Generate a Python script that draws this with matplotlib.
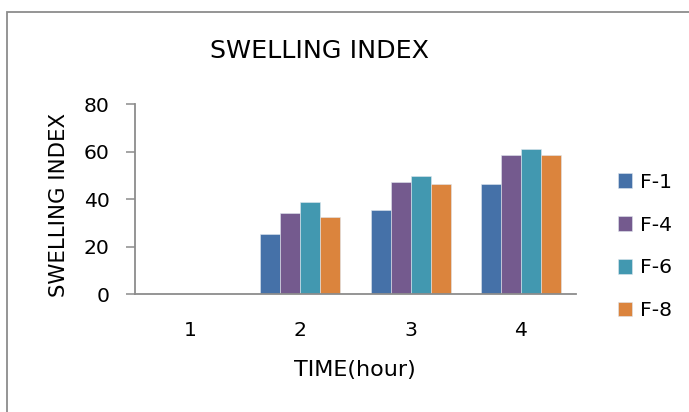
import numpy as np
import matplotlib
matplotlib.use("Agg")
import matplotlib.pyplot as plt
from matplotlib.patches import Rectangle

# data
hours = ["1", "2", "3", "4"]
series_names = ["F-1", "F-4", "F-6", "F-8"]
f1 = [0, 25.3, 35.4, 46.2]
f4 = [0, 34.2, 47.3, 58.6]
f6 = [0, 38.6, 49.7, 61.1]
f8 = [0, 32.4, 46.4, 58.4]
colors = ["#4571a8", "#745a8e", "#4298b0", "#db843d"]

plt.rcParams["font.family"] = ["DejaVu Sans"]

W, H = 689, 412
fig = plt.figure(figsize=(W / 100, H / 100), dpi=100)

# outer chart frame (runs off the right and bottom edges)
fig.patches.append(Rectangle((7 / W, -0.05), 1.1, 1 - 12 / H + 0.05,
                             transform=fig.transFigure, fill=False,
                             edgecolor="#8c8c8c", linewidth=1.3))

ax = fig.add_axes([135 / W, 1 - 294.3 / H, (576 - 135) / W, (294.3 - 104) / H])

x = np.arange(len(hours))
width = 0.181
for i, (vals, name) in enumerate(zip([f1, f4, f6, f8], series_names)):
    ax.bar(x + (i - 1.5) * width, vals, width, color=colors[i], label=name,
           edgecolor="#dfe6ee", linewidth=0.4)

ax.set_xlim(-0.5, 3.5)
ax.set_ylim(0, 80)
ax.set_yticks([0, 20, 40, 60, 80])
ax.set_xticks(x)
ax.set_xticklabels(hours)
for s in ["top", "right"]:
    ax.spines[s].set_visible(False)
for s in ["left", "bottom"]:
    ax.spines[s].set_color("#8c8c8c")
    ax.spines[s].set_linewidth(1.3)
ax.tick_params(axis="y", length=6.3, width=1.1, color="#8c8c8c",
               labelsize=14.7, pad=12)
ax.tick_params(axis="x", length=0, labelsize=14.7, pad=19)

fig.text(355 / W, 1 - 370 / H, "TIME(hour)", fontsize=16,
         ha="center", va="center")
fig.text(59 / W, 1 - 205 / H, "SWELLING INDEX", fontsize=15.3,
         rotation=90, ha="center", va="center")
fig.text(320 / W, 1 - 50.5 / H, "SWELLING INDEX", fontsize=18.3,
         ha="center", va="center")

ax.legend(loc="center left", bbox_to_anchor=(618 / W, 1 - 246.5 / H),
          bbox_transform=fig.transFigure, frameon=False, fontsize=14.7,
          handlelength=0.71, handleheight=0.71, labelspacing=1.17,
          handletextpad=0.36, borderaxespad=0, borderpad=0)

fig.savefig("out.png", dpi=100)
